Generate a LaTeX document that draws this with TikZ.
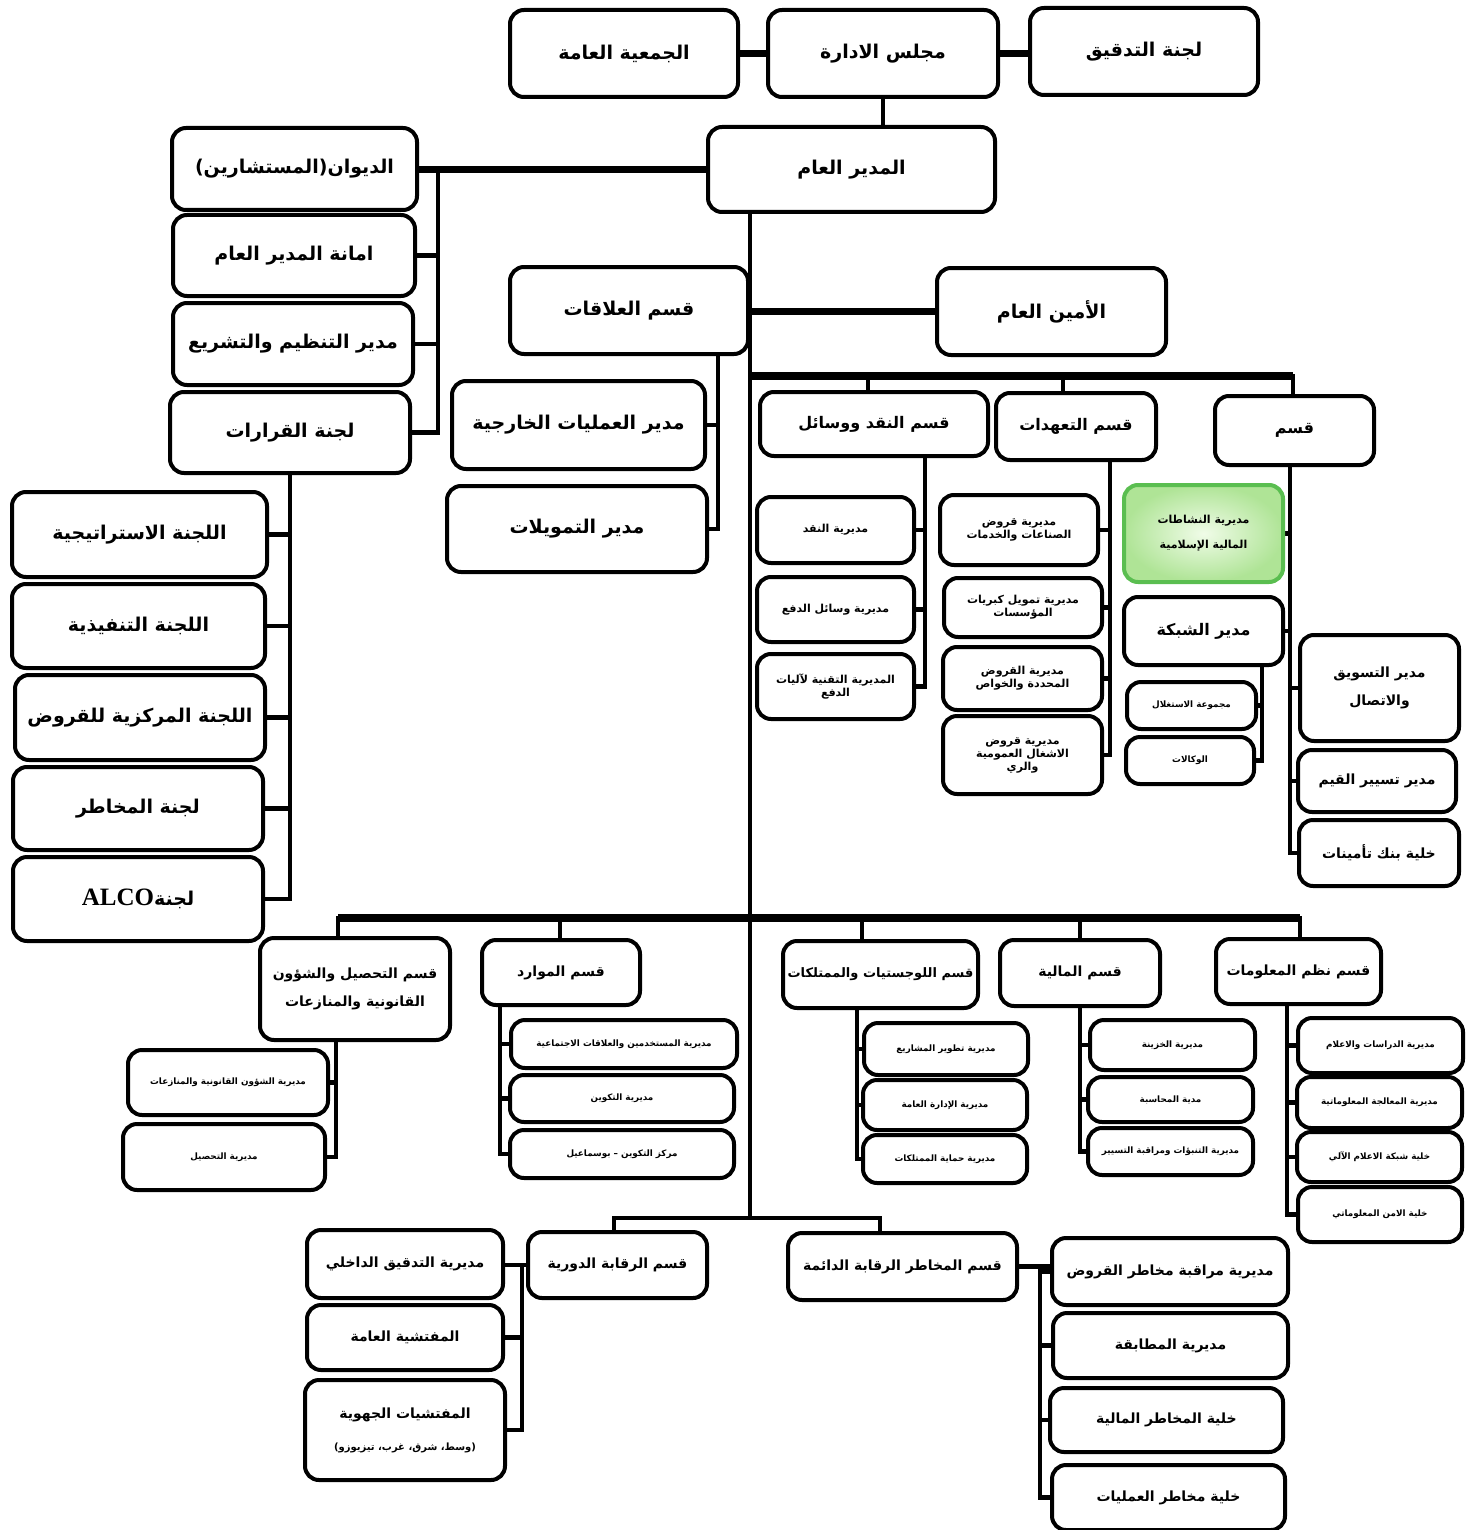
\documentclass[tikz,border=0pt]{standalone}
\usepackage{fontspec}
\newfontfamily\arabicfont[Script=Arabic]{DejaVu Sans}
\newfontfamily\latinserif{Liberation Serif}
\TeXXeTstate=1
\newcommand\ar[1]{\beginR #1\endR}
\newcommand\bx[7][]{\node[box,#1,minimum width={(#5-#3)*0.5pt},minimum height={(#6-#4)*0.5pt}] (#2) at ({(#3+#5)/2},{(#4+#6)/2}) {#7};}
\usetikzlibrary{calc}
\pgfdeclarelayer{background}
\pgfsetlayers{background,main}
\begin{document}
\begin{tikzpicture}[x=0.5pt,y=-0.5pt,
  box/.style={draw, line width=2pt, rounded corners=7pt, fill=white, align=center, inner sep=1pt},
  fL/.style={font=\arabicfont\bfseries\fontsize{9.5}{13}\selectfont},
  fML/.style={font=\arabicfont\bfseries\fontsize{8}{11}\selectfont},
  fM/.style={font=\arabicfont\bfseries\fontsize{7}{10}\selectfont},
  fS/.style={font=\arabicfont\bfseries\fontsize{5.5}{6.5}\selectfont},
  fT/.style={font=\arabicfont\bfseries\fontsize{4.4}{5}\selectfont},
  greenbox/.style={draw={rgb,255:red,90;green,190;blue,80}, inner color={rgb,255:red,240;green,252;blue,232}, outer color={rgb,255:red,175;green,228;blue,150}},
  bar/.style={line width=3.8pt},
  bus/.style={line width=2.3pt, line cap=rect}]
\useasboundingbox (0,0) rectangle (1472,1530);

% ---------- coordinates for buses ----------
\coordinate (T) at (750,0);
\coordinate (LB) at (438,0);
\coordinate (AB) at (718,0);
\coordinate (NB) at (925,0);
\coordinate (EB) at (1110,0);
\coordinate (QB) at (1290,0);
\coordinate (SB) at (1262,0);
\coordinate (H1L) at (748,376);
\coordinate (H1R) at (1293,376);
\coordinate (n1) at (868,376);
\coordinate (n2) at (1063,376);
\coordinate (H2L) at (338,918);
\coordinate (H2R) at (1300,918);
\coordinate (m1) at (560,918);
\coordinate (m2) at (862,918);
\coordinate (m3) at (1080,918);
\coordinate (TB) at (750,1218);
\coordinate (BL) at (614,1218);
\coordinate (BR) at (880,1218);
\coordinate (FB) at (336,0);
\coordinate (GB) at (500,0);
\coordinate (HB) at (857,0);
\coordinate (IB) at (1080,0);
\coordinate (JB) at (1287,0);
\coordinate (KB) at (522,0);
\coordinate (RB) at (1040,0);

% ---------- boxes ----------
\bx[fL]{jam}{510}{10}{738}{97}{\ar{الجمعية العامة}}
\bx[fL]{majlis}{768}{10}{998}{97}{\ar{مجلس الادارة}}
\bx[fL]{tadqiq}{1030}{8}{1258}{95}{\ar{لجنة التدقيق}}
\bx[fL]{gm}{708}{127}{995}{212}{\ar{المدير العام}}
\bx[fL]{diwan}{172}{128}{417}{210}{\ar{الديوان(المستشارين)}}
\bx[fL]{amana}{173}{215}{415}{296}{\ar{امانة المدير العام}}
\bx[fL]{tanzim}{173}{303}{413}{385}{\ar{مدير التنظيم والتشريع}}
\bx[fL]{qararat}{170}{392}{410}{473}{\ar{لجنة القرارات}}
\bx[fL]{alaqat}{510}{267}{748}{354}{\ar{قسم العلاقات}}
\bx[fL]{amin}{937}{268}{1166}{355}{\ar{الأمين العام}}
\bx[fL]{khar}{452}{381}{705}{469}{\ar{مدير العمليات الخارجية}}
\bx[fL]{tamw}{447}{486}{707}{572}{\ar{مدير التمويلات}}
\bx[fML]{naqd}{760}{392}{988}{456}{\ar{قسم النقد ووسائل}}
\bx[fML]{taah}{996}{393}{1156}{460}{\ar{قسم التعهدات}}
\bx[fML]{qism}{1215}{396}{1374}{465}{\ar{قسم}}
\bx[fS]{d1}{757}{497}{914}{563}{\ar{مديرية النقد}}
\bx[fS]{d2}{757}{577}{914}{642}{\ar{مديرية وسائل الدفع}}
\bx[fS]{d3}{757}{654}{914}{719}{\ar{المديرية التقنية لآليات}\\\ar{الدفع}}
\bx[fS]{e1}{940}{495}{1098}{565}{\ar{مديرية قروض}\\\ar{الصناعات والخدمات}}
\bx[fS]{e2}{944}{578}{1102}{637}{\ar{مديرية تمويل كبريات}\\\ar{المؤسسات}}
\bx[fS]{e3}{943}{647}{1102}{710}{\ar{مديرية القروض}\\\ar{المحددة والخواص}}
\bx[fS]{e4}{943}{716}{1102}{794}{\ar{مديرية قروض}\\\ar{الاشغال العمومية}\\\ar{والري}}
\bx[fML]{shabaka}{1124}{597}{1283}{665}{\ar{مدير الشبكة}}
\bx[fT]{istighlal}{1127}{682}{1256}{729}{\ar{مجموعة الاستغلال}}
\bx[fT]{wakalat}{1126}{737}{1254}{784}{\ar{الوكالات}}
\bx[fM]{taswiq}{1300}{635}{1459}{741}{\ar{مدير التسويق}\\[4pt]\ar{والاتصال}}
\bx[fM]{qiyam}{1298}{750}{1456}{812}{\ar{مدير تسيير القيم}}
\bx[fM]{bank}{1299}{820}{1459}{886}{\ar{خلية بنك تأمينات}}
\bx[fL]{c1}{12}{492}{267}{577}{\ar{اللجنة الاستراتيجية}}
\bx[fL]{c2}{12}{584}{265}{668}{\ar{اللجنة التنفيذية}}
\bx[fL]{c3}{15}{675}{265}{760}{\ar{اللجنة المركزية للقروض}}
\bx[fL]{c4}{13}{767}{263}{850}{\ar{لجنة المخاطر}}
\bx[fL]{c5}{13}{857}{263}{941}{\ar{لجنة\beginL{\latinserif\bfseries\fontsize{12.5}{14}\selectfont ALCO}\endL}}
\bx[fM]{tahsil}{260}{938}{450}{1040}{\ar{قسم التحصيل والشؤون}\\[4pt]\ar{القانونية والمنازعات}}
\bx[fM]{mawarid}{482}{940}{640}{1005}{\ar{قسم الموارد}}
\bx[fM,font=\arabicfont\bfseries\fontsize{6.5}{9}\selectfont]{lojist}{783}{941}{978}{1008}{\ar{قسم اللوجستيات والممتلكات}}
\bx[fM]{maliya}{1000}{940}{1160}{1006}{\ar{قسم المالية}}
\bx[fM]{nuzum}{1216}{939}{1381}{1004}{\ar{قسم نظم المعلومات}}
\bx[fT]{f1}{128}{1050}{328}{1115}{\ar{مديرية الشؤون القانونية والمنازعات}}
\bx[fT]{f2}{123}{1124}{325}{1190}{\ar{مديرية التحصيل}}
\bx[fT]{g1}{511}{1020}{737}{1068}{\ar{مديرية المستخدمين والعلاقات الاجتماعية}}
\bx[fT]{g2}{510}{1075}{734}{1122}{\ar{مديرية التكوين}}
\bx[fT]{g3}{510}{1130}{734}{1178}{\ar{مركز التكوين – بوسماعيل}}
\bx[fT]{h1}{864}{1023}{1028}{1075}{\ar{مديرية تطوير المشاريع}}
\bx[fT]{h2}{863}{1080}{1027}{1130}{\ar{مديرية الإدارة العامة}}
\bx[fT]{h3}{863}{1135}{1027}{1183}{\ar{مديرية حماية الممتلكات}}
\bx[fT]{i1}{1090}{1020}{1255}{1070}{\ar{مديرية الخزينة}}
\bx[fT]{i2}{1088}{1077}{1253}{1122}{\ar{مدية المحاسبة}}
\bx[fT]{i3}{1088}{1128}{1253}{1175}{\ar{مديرية التنبؤات ومراقبة التسيير}}
\bx[fT]{j1}{1298}{1018}{1463}{1073}{\ar{مديرية الدراسات والاعلام}}
\bx[fT]{j2}{1297}{1077}{1462}{1128}{\ar{مديرية المعالجة المعلوماتية}}
\bx[fT]{j3}{1297}{1132}{1462}{1182}{\ar{خلية شبكة الاعلام الآلي}}
\bx[fT]{j4}{1298}{1187}{1462}{1242}{\ar{خلية الامن المعلوماتي}}
\bx[fM]{raqaba}{528}{1232}{707}{1298}{\ar{قسم الرقابة الدورية}}
\bx[fM]{makhatir}{788}{1233}{1017}{1300}{\ar{قسم المخاطر الرقابة الدائمة}}
\bx[fM]{k1}{307}{1230}{503}{1298}{\ar{مديرية التدقيق الداخلي}}
\bx[fM]{k2}{307}{1305}{503}{1370}{\ar{المفتشية العامة}}
\bx[fM]{k3}{305}{1380}{505}{1480}{\ar{المفتشيات الجهوية}\\[6pt]{\fontsize{5}{6}\selectfont\ar{(وسط، شرق، غرب، تيزيوزو)}}}
\bx[fM]{l1}{1052}{1238}{1288}{1305}{\ar{مديرية مراقبة مخاطر القروض}}
\bx[fM]{l2}{1053}{1313}{1288}{1378}{\ar{مديرية المطابقة}}
\bx[fM]{l3}{1050}{1388}{1283}{1452}{\ar{خلية المخاطر المالية}}
\bx[fM]{l4}{1052}{1465}{1285}{1530}{\ar{خلية مخاطر العمليات}}
\bx[fS,greenbox]{green}{1124}{485}{1283}{582}{\ar{مديرية النشاطات}\\[6pt]\ar{المالية الإسلامية}}

% ---------- connectors (behind boxes) ----------
\begin{pgfonlayer}{background}
% top level
\draw[bar] (jam.east) -- (majlis.west);
\draw[bar] (majlis.east) -- (majlis.east -| tadqiq.west);
\draw[bus] (majlis.south) -- (majlis.south |- gm.north);
\draw[bar] (gm.west) -- (gm.west -| diwan.east);
% advisers bus
\draw[bus] (diwan.east -| LB) -- (qararat.east -| LB);
\foreach \n in {amana,tanzim,qararat} \draw[bus] (\n.east) -- (\n.east -| LB);
% committees
\draw[bus] (qararat.south) -- (c5.east -| qararat.south);
\foreach \n in {c1,c2,c3,c4,c5} \draw[bus] (\n.east) -- (\n.east -| qararat.south);
% main trunk
\draw[bus] (gm.south -| T) -- (TB);
\draw[bar] (amin.west) -- (amin.west -| T);
% relations
\draw[bus] (alaqat.south -| AB) -- (tamw.east -| AB);
\foreach \n in {khar,tamw} \draw[bus] (\n.east) -- (\n.east -| AB);
% upper departments
\draw[bar] (H1L) -- (H1R);
\draw[bus] (n1) -- (n1 |- naqd.north);
\draw[bus] (n2) -- (n2 |- taah.north);
\draw[bus] (H1R) -- (H1R |- qism.north);
\draw[bus] (naqd.south -| NB) -- (d3.east -| NB);
\foreach \n in {d1,d2,d3} \draw[bus] (\n.east) -- (\n.east -| NB);
\draw[bus] (taah.south -| EB) -- (e4.east -| EB);
\foreach \n in {e1,e2,e3,e4} \draw[bus] (\n.east) -- (\n.east -| EB);
\draw[bus] (qism.south -| QB) -- (bank.west -| QB);
\foreach \n in {green,shabaka} \draw[bus] (\n.east) -- (\n.east -| QB);
\foreach \n in {taswiq,qiyam,bank} \draw[bus] (\n.west) -- (\n.west -| QB);
\draw[bus] (shabaka.south -| SB) -- (wakalat.east -| SB);
\foreach \n in {istighlal,wakalat} \draw[bus] (\n.east) -- (\n.east -| SB);
% lower departments
\draw[bar] (H2L) -- (H2R);
\draw[bus] (H2L) -- (H2L |- tahsil.north);
\draw[bus] (m1) -- (m1 |- mawarid.north);
\draw[bus] (m2) -- (m2 |- lojist.north);
\draw[bus] (m3) -- (m3 |- maliya.north);
\draw[bus] (H2R) -- (H2R |- nuzum.north);
\draw[bus] (tahsil.south -| FB) -- (f2.east -| FB);
\foreach \n in {f1,f2} \draw[bus] (\n.east) -- (\n.east -| FB);
\draw[bus] (mawarid.south -| GB) -- (g3.west -| GB);
\foreach \n in {g1,g2,g3} \draw[bus] (\n.west) -- (\n.west -| GB);
\draw[bus] (lojist.south -| HB) -- (h3.west -| HB);
\foreach \n in {h1,h2,h3} \draw[bus] (\n.west) -- (\n.west -| HB);
\draw[bus] (maliya.south -| IB) -- (i3.west -| IB);
\foreach \n in {i1,i2,i3} \draw[bus] (\n.west) -- (\n.west -| IB);
\draw[bus] (nuzum.south -| JB) -- (j4.west -| JB);
\foreach \n in {j1,j2,j3,j4} \draw[bus] (\n.west) -- (\n.west -| JB);
% control departments
\draw[bus] (BL) -- (BR);
\draw[bus] (BL) -- (BL |- raqaba.north);
\draw[bus] (BR) -- (BR |- makhatir.north);
\draw[bus] (raqaba.west) -- (raqaba.west -| k1.east);
\draw[bus] (raqaba.west -| KB) -- (k3.east -| KB);
\foreach \n in {k2,k3} \draw[bus] (\n.east) -- (\n.east -| KB);
\draw[bus] (makhatir.east) -- (makhatir.east -| l1.west);
\draw[bus] (makhatir.east -| RB) -- (l4.west -| RB);
\foreach \n in {l1,l2,l3,l4} \draw[bus] (\n.west) -- (\n.west -| RB);
\end{pgfonlayer}
\end{tikzpicture}
\end{document}
